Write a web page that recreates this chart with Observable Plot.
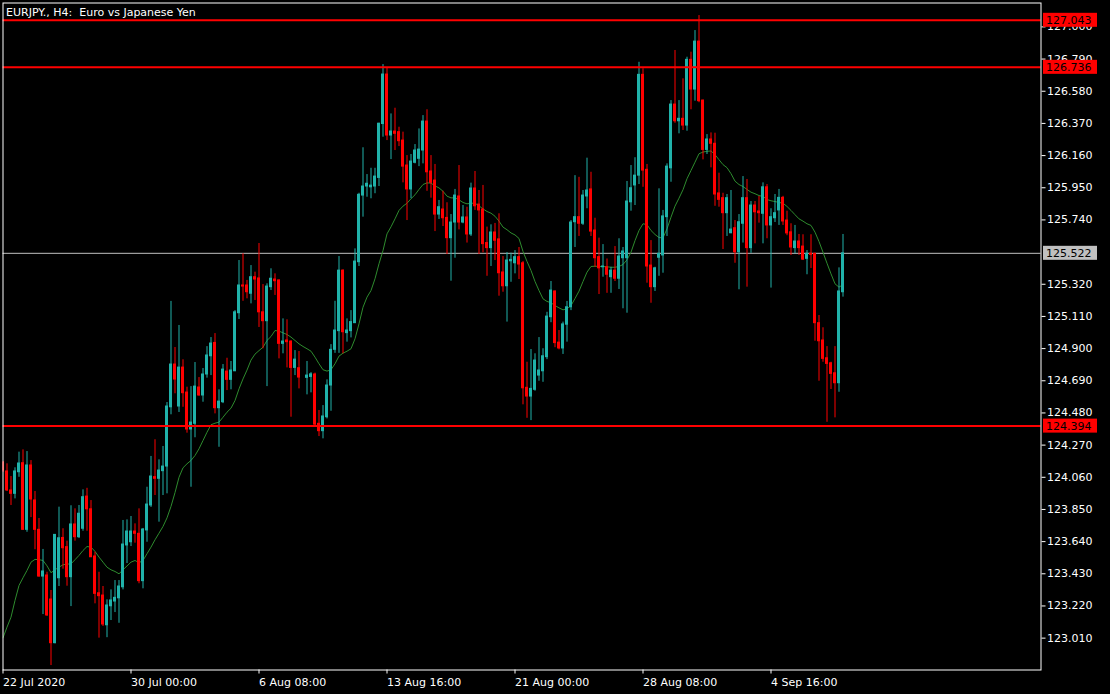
<!DOCTYPE html>
<html><head><meta charset="utf-8">
<script src="https://cdn.jsdelivr.net/npm/d3@7"></script>
<script src="https://cdn.jsdelivr.net/npm/@observablehq/plot@0.6"></script>
<style>
html,body{margin:0;padding:0;background:#000;}
#chart{width:1110px;height:694px;overflow:hidden;}
svg text{white-space:pre;}
</style></head><body><div id="chart"></div>
<script>
const symbolTitle = "EURJPY., H4:  Euro vs Japanese Yen";

// H4 candles, index 0 = 22 Jul 2020 16:00 (index 75 has no bar)
const open = [
124.156,124.098,123.974,123.952,124.093,124.152,123.717,124.137,123.909,123.717,
123.412,123.419,123.262,122.977,123.401,123.664,123.604,123.408,123.752,123.669,
123.724,123.934,123.851,123.543,123.303,123.288,123.094,123.218,123.249,123.270,
123.342,123.615,123.636,123.706,123.691,123.382,123.713,123.876,124.061,124.050,
124.100,124.130,124.517,124.796,124.522,124.776,124.613,124.372,124.409,124.646,
124.594,124.731,124.850,124.937,124.511,124.550,124.750,124.696,124.752,125.131,
125.312,125.312,125.258,125.366,125.358,125.137,125.079,125.301,125.351,125.345,
124.931,124.953,124.946,124.774,124.772,null,124.709,124.715,124.731,124.409,
124.361,124.452,124.659,124.892,125.014,125.409,125.001,125.014,125.066,125.464,
125.899,125.958,125.953,125.958,126.014,126.366,126.689,126.291,126.317,126.313,
126.258,126.095,125.939,126.113,126.139,126.193,126.382,126.056,125.997,125.775,
125.808,125.753,125.621,125.723,125.893,125.723,125.756,125.645,125.945,125.840,
125.808,125.589,125.556,125.658,125.613,125.397,125.307,125.470,125.457,125.497,
125.457,124.644,124.587,124.631,124.724,124.752,124.844,125.105,125.273,124.939,
124.901,125.056,125.170,125.725,125.758,125.715,125.893,125.939,125.671,125.497,
125.431,125.431,125.366,125.409,125.356,125.490,125.490,125.855,125.965,126.029,
126.687,126.067,125.442,125.301,125.493,125.508,125.758,126.077,126.493,126.384,
126.400,126.356,126.785,126.591,126.904,126.519,126.197,126.265,126.237,125.913,
125.882,125.784,125.653,125.686,125.529,125.715,125.882,125.556,125.834,125.795,
125.780,125.953,125.704,125.751,125.802,125.884,125.736,125.659,125.556,125.599,
125.566,125.486,125.519,125.519,125.066,124.953,124.837,124.804,124.739,124.674,
125.268];
const high = [
124.163,124.148,124.065,124.122,124.224,124.239,124.228,124.169,123.967,123.791,
123.589,123.440,123.321,123.686,123.865,123.724,123.643,123.874,123.854,123.876,
123.978,123.988,123.908,123.571,123.440,123.347,123.260,123.325,123.386,123.386,
123.778,123.782,123.804,123.756,123.854,123.726,123.995,124.196,124.305,124.174,
124.261,124.548,125.208,124.907,125.051,124.827,124.648,124.652,124.809,124.711,
124.770,124.913,124.972,124.998,124.631,124.796,124.837,124.816,125.148,125.475,
125.519,125.345,125.442,125.399,125.586,125.318,125.323,125.421,125.388,125.348,
125.094,125.088,124.950,124.887,124.881,null,124.816,124.743,124.740,124.496,
124.528,124.696,124.926,125.209,125.501,125.414,125.094,125.148,125.551,125.914,
126.211,126.036,126.077,126.077,126.371,126.754,126.733,126.432,126.469,126.345,
126.313,126.160,126.167,126.232,126.334,126.421,126.459,126.160,126.102,125.867,
125.927,125.852,125.775,125.939,126.095,125.834,125.823,125.980,126.056,125.932,
125.965,125.693,125.708,125.717,125.780,125.501,125.527,125.523,125.540,125.560,
125.468,124.811,124.894,124.866,124.972,124.899,125.137,125.338,125.276,125.018,
125.073,125.208,125.736,126.029,126.018,125.932,126.143,126.051,125.751,125.621,
125.579,125.485,125.431,125.566,125.617,125.560,125.991,126.095,126.146,126.769,
126.727,126.102,125.605,125.431,125.943,125.802,126.106,126.519,126.846,126.519,
126.661,126.802,126.835,126.976,127.074,126.522,126.297,126.308,126.306,126.045,
125.914,125.906,125.932,125.736,125.775,126.023,126.004,125.860,125.860,125.893,
125.982,125.971,125.813,125.906,125.939,125.894,125.797,125.715,125.704,125.645,
125.643,125.540,125.643,125.522,125.116,125.036,124.913,124.811,124.913,125.427,
125.645];
const low = [
124.091,123.967,123.876,123.919,124.060,123.713,123.701,123.797,123.587,123.408,
123.164,123.152,122.831,122.973,123.347,123.460,123.349,123.216,123.643,123.660,
123.708,123.708,123.536,123.234,123.010,123.086,123.013,123.125,123.177,123.107,
123.325,123.497,123.608,123.630,123.365,123.332,123.636,123.863,123.941,123.767,
123.941,123.952,124.468,124.605,124.483,124.517,124.348,123.995,124.318,124.589,
124.550,124.707,124.724,124.474,124.256,124.541,124.626,124.631,124.750,125.090,
125.209,125.225,125.192,125.214,125.038,124.899,124.652,125.279,125.247,124.833,
124.866,124.774,124.452,124.724,124.637,null,124.598,124.611,124.387,124.326,
124.311,124.441,124.491,124.869,124.869,124.866,124.942,124.970,125.064,125.436,
125.758,125.888,125.878,125.911,125.958,126.280,126.258,126.134,126.193,126.219,
125.982,125.736,125.878,126.106,126.088,126.106,125.927,125.882,125.664,125.743,
125.697,125.514,125.340,125.490,125.675,125.715,125.589,125.632,125.802,125.514,
125.525,125.372,125.436,125.475,125.242,125.268,125.073,125.333,125.388,125.351,
124.533,124.445,124.430,124.622,124.687,124.680,124.828,125.069,124.906,124.892,
124.862,124.942,125.148,125.560,125.632,125.704,125.813,125.632,125.431,125.253,
125.366,125.261,125.261,125.338,125.286,125.160,125.131,125.797,125.834,125.971,
125.953,125.327,125.196,125.273,125.372,125.392,125.632,125.986,126.371,126.302,
126.324,126.319,126.459,126.515,126.505,126.132,126.167,126.080,125.829,125.823,
125.547,125.632,125.650,125.457,125.284,125.589,125.301,125.522,125.584,125.719,
125.584,125.617,125.295,125.723,125.704,125.704,125.637,125.508,125.519,125.508,
125.475,125.382,125.423,124.948,124.687,124.811,124.419,124.633,124.448,124.615,
125.236];
const close = [
124.104,123.974,123.952,124.098,124.150,123.717,124.137,123.915,123.717,123.412,
123.445,123.158,122.977,123.684,123.662,123.597,123.408,123.752,123.669,123.822,
123.930,123.851,123.538,123.299,123.284,123.099,123.223,123.256,123.273,123.347,
123.621,123.706,123.706,123.691,123.382,123.719,123.882,124.065,124.050,124.104,
124.130,124.522,124.796,124.698,124.776,124.609,124.372,124.417,124.652,124.594,
124.731,124.855,124.933,124.511,124.554,124.763,124.696,124.757,125.137,125.312,
125.305,125.268,125.366,125.351,125.137,125.079,125.305,125.356,125.340,124.931,
124.946,124.942,124.774,124.828,124.711,null,124.724,124.732,124.404,124.361,
124.457,124.659,124.892,125.018,125.409,125.007,125.018,125.073,125.468,125.904,
125.958,125.976,125.964,126.023,126.368,126.689,126.291,126.317,126.302,126.254,
126.088,125.939,126.121,126.193,126.199,126.382,126.051,125.982,125.775,125.823,
125.751,125.621,125.723,125.899,125.723,125.756,125.645,125.945,125.829,125.802,
125.582,125.556,125.658,125.604,125.392,125.307,125.475,125.479,125.497,125.449,
124.641,124.587,124.637,124.822,124.757,124.850,125.109,125.279,124.936,124.901,
125.058,125.170,125.723,125.758,125.715,125.899,125.932,125.664,125.490,125.424,
125.436,125.382,125.409,125.356,125.501,125.534,125.860,125.947,126.029,126.687,
126.062,125.436,125.301,125.424,125.519,125.763,126.088,126.493,126.384,126.400,
126.356,126.785,126.591,126.904,126.515,126.197,126.265,126.237,125.906,125.871,
125.784,125.882,125.677,125.529,125.725,125.882,125.556,125.834,125.790,125.784,
125.953,125.704,125.758,125.784,125.884,125.730,125.652,125.560,125.599,125.556,
125.481,125.519,125.512,125.066,124.948,124.833,124.800,124.735,124.674,125.273,
125.522];
// moving average (green line) read per bar
const movingAverage = [
123.012,123.082,123.147,123.256,123.354,123.404,123.452,123.506,123.524,123.522,
123.517,123.482,123.437,123.456,123.473,123.489,123.493,123.495,123.522,123.550,
123.582,123.608,123.604,123.576,123.539,123.506,123.473,123.456,123.445,123.430,
123.456,123.481,123.506,123.517,123.502,123.517,123.561,123.604,123.652,123.695,
123.739,123.795,123.870,123.960,124.060,124.122,124.148,124.170,124.202,124.246,
124.300,124.354,124.403,124.413,124.420,124.452,124.485,124.511,124.561,124.637,
124.702,124.760,124.825,124.864,124.887,124.909,124.953,124.979,125.018,125.014,
125.003,124.992,124.975,124.953,124.931,124.914,124.899,124.883,124.844,124.801,
124.762,124.753,124.762,124.801,124.851,124.870,124.883,124.899,124.964,125.062,
125.170,125.236,125.279,125.356,125.454,125.540,125.649,125.695,125.747,125.802,
125.830,125.849,125.878,125.904,125.939,125.971,125.982,125.980,125.962,125.949,
125.927,125.895,125.884,125.884,125.871,125.854,125.845,125.849,125.849,125.832,
125.812,125.795,125.784,125.764,125.732,125.693,125.676,125.655,125.642,125.619,
125.534,125.469,125.410,125.338,125.279,125.225,125.208,125.199,125.181,125.166,
125.153,125.160,125.181,125.227,125.275,125.338,125.399,125.436,125.438,125.436,
125.436,125.434,125.431,125.431,125.436,125.449,125.480,125.529,125.605,125.671,
125.715,125.709,125.671,125.645,125.625,125.623,125.682,125.758,125.830,125.882,
125.937,126.009,126.063,126.117,126.172,126.183,126.188,126.190,126.166,126.133,
126.101,126.081,126.042,125.993,125.971,125.958,125.939,125.921,125.911,125.899,
125.893,125.873,125.865,125.860,125.854,125.849,125.828,125.802,125.774,125.747,
125.732,125.715,125.704,125.660,125.599,125.529,125.457,125.388,125.323,125.301,
125.318];

const dateTickIndex = [0, 32, 64, 96, 128, 160, 192];
const dateTickLabels = ["22 Jul 2020", "30 Jul 00:00", "6 Aug 08:00", "13 Aug 16:00", "21 Aug 00:00", "28 Aug 08:00", "4 Sep 16:00"];
const priceTicks = [127.000, 126.790, 126.580, 126.370, 126.160, 125.950, 125.740, 125.320, 125.110,
  124.900, 124.690, 124.480, 124.270, 124.060, 123.850, 123.640, 123.430, 123.220, 123.010];
const levelLines = [127.043, 126.736, 124.394];
const currentPrice = 125.522;

const bullColor = "#20b2aa", bearColor = "#ff0000";
const candles = open.map((o, i) => ({i, o, h: high[i], l: low[i], c: close[i]})).filter(d => d.o != null);
const maData = movingAverage.map((v, i) => ({i, v}));
const colorOf = d => d.c >= d.o ? bullColor : bearColor;
const dateLabel = new Map(dateTickIndex.map((t, k) => [t, dateTickLabels[k]]));

const chart = Plot.plot({
  width: 1110, height: 694,
  marginLeft: 2.5, marginRight: 69.5, marginTop: 2.5, marginBottom: 24.5,
  style: "background:#000;color:#fff;font-family:'DejaVu Sans';font-size:11px;",
  x: {type: "linear", domain: [0, 259.5]},
  y: {domain: [122.802, 127.156]},
  marks: [
    Plot.ruleY([currentPrice], {stroke: "#c0c0c0", strokeWidth: 1}),
    Plot.line(maData, {x: "i", y: "v", stroke: "#2e8b2e", strokeWidth: 1, clip: true}),
    Plot.ruleX(candles, {x: "i", y1: "l", y2: "h", stroke: colorOf, strokeWidth: 1, clip: true}),
    Plot.rect(candles, {x1: d => d.i - 0.375, x2: d => d.i + 0.375,
      y1: d => Math.min(d.o, d.c), y2: d => Math.max(d.o, d.c),
      fill: colorOf, insetTop: -0.5, insetBottom: -0.5, clip: true}),
    Plot.ruleY(levelLines, {stroke: "#ff0000", strokeWidth: 2}),
    Plot.frame({stroke: "#fff"}),
    Plot.axisY(priceTicks, {anchor: "right", tickSize: 4, tickPadding: 2, tickFormat: d => d.toFixed(3), fontSize: 11, label: null}),
    Plot.axisX(dateTickIndex, {anchor: "bottom", tickSize: 4, tickPadding: 4, tickFormat: d => dateLabel.get(d), textAnchor: "start", dx: 0, fontSize: 11, label: null}),
    Plot.text([symbolTitle], {frameAnchor: "top-left", textAnchor: "start", lineAnchor: "top", dx: 3, dy: 5, fill: "#fff", fontSize: 11})
  ]
});

// price labels on the right axis (level lines and current price)
const yScale = chart.scale("y");
const svg = d3.select(chart);
const boxes = levelLines.map(v => ({v, bg: "#ff0000"})).concat([{v: currentPrice, bg: "#c0c0c0"}]);
const g = svg.append("g").attr("font-family", "DejaVu Sans").attr("font-size", 11).attr("text-anchor", "start");
boxes.forEach(b => {
  const yy = yScale.apply(b.v);
  g.append("rect").attr("x", 1043).attr("y", yy - 7).attr("width", 54).attr("height", 14).attr("fill", b.bg);
  g.append("text").attr("x", 1046).attr("y", yy).attr("dy", "0.36em").attr("text-anchor", "start").attr("fill", "#000").text(b.v.toFixed(3));
});

document.getElementById("chart").appendChild(chart);
</script>
</body></html>
